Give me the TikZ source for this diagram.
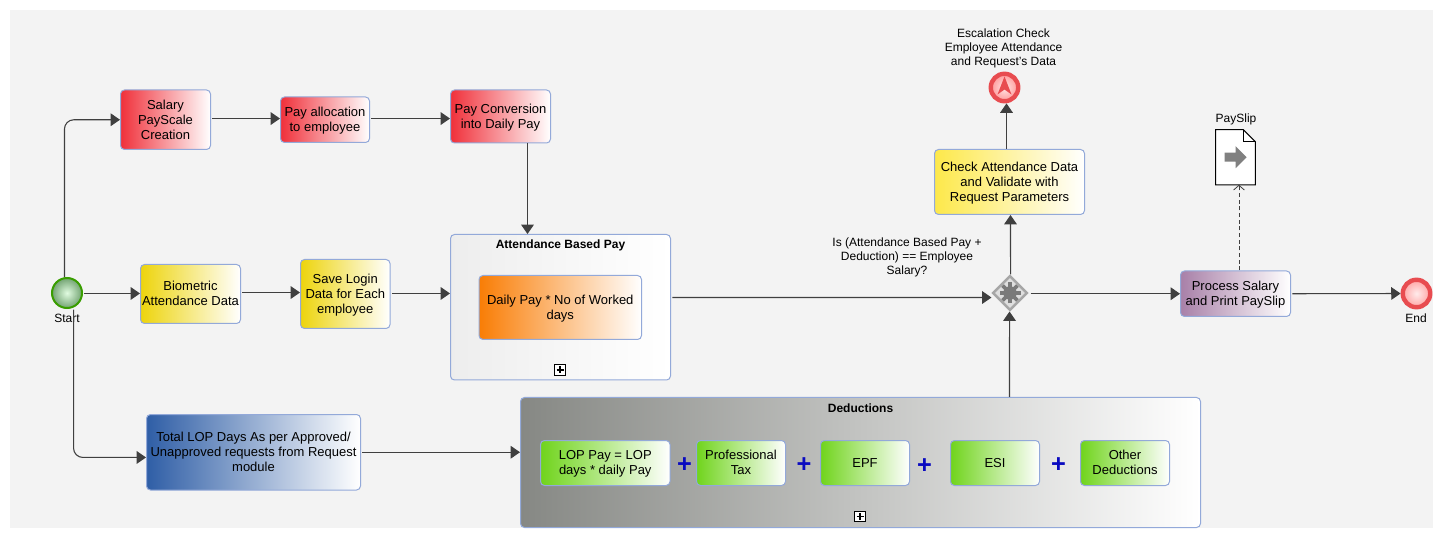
\documentclass[tikz,border=0pt]{standalone}
\usepackage{fontspec}
\setmainfont{Liberation Sans}
\usetikzlibrary{arrows.meta,shapes.geometric,calc}
\newcommand{\ls}{\rule[-2.07pt]{0pt}{10.87pt}}
\definecolor{edgeC}{HTML}{3F3F3F}
\definecolor{borderC}{HTML}{93A9D9}
\definecolor{panelC}{HTML}{F3F3F3}
\definecolor{redC}{HTML}{F0303A}
\definecolor{goldC}{HTML}{EDD40C}
\definecolor{lemonC}{HTML}{FDE84A}
\definecolor{greenC}{HTML}{70D41C}
\definecolor{blueC}{HTML}{2F5EA6}
\definecolor{orangeC}{HTML}{F97D05}
\definecolor{purpleC}{HTML}{A880A8}
\definecolor{slateC}{HTML}{868884}
\definecolor{ringC}{HTML}{E84C50}
\definecolor{plusC}{HTML}{0A0AC0}
\tikzset{
  x=0.75pt,y=-0.75pt,
  lab/.style={inner sep=0pt,align=center,font=\fontsize{9}{10.5}\selectfont,text=black},
  flow/.style={draw=edgeC,line width=0.8pt,-{Triangle[length=7pt,width=9.5pt]}},
  box/.style={draw=borderC,line width=0.75pt,rounded corners=3pt,inner sep=0pt,align=center,
     font=\fontsize{9.75}{11.25}\selectfont,text=black,right color=white},
  sz/.style 2 args={minimum width=#1*0.75pt,minimum height=#2*0.75pt},
  redbox/.style={box,left color=redC},
  yelbox/.style={box,left color=goldC},
  grnbox/.style={box,left color=greenC},
  title/.style={inner sep=0pt,font=\fontsize{9}{11}\bfseries\selectfont},
  marker/.style={draw=black,fill=white,line width=0.75pt,minimum size=8.2pt,inner sep=0pt},
  plussign/.style={inner sep=0pt,text=plusC,font=\fontsize{19}{19}\bfseries\selectfont},
}
\begin{document}
\begin{tikzpicture}
\useasboundingbox (0,0) rectangle (1443,538);
\fill[white] (0,0) rectangle (1443,538);
\fill[panelC] (10,10) rectangle (1433,528);

% tasks
\node[redbox,sz={90}{59.5}] (salary) at (165.5,119.75) {\ls Salary\\PayScale\\\ls Creation};
\node[redbox,sz={89}{45.5}] (alloc) at (325,119.75) {\ls Pay allocation\\\ls to employee};
\node[redbox,sz={100}{53}] (conv) at (500.5,116.5) {\ls Pay Conversion\\\ls into Daily Pay};
\node[yelbox,sz={100}{59}] (bio) at (190.5,294) {\ls Biometric\\\ls Attendance Data};
\node[yelbox,sz={89.5}{69}] (save) at (345.25,294) {\ls Save Login\\Data for Each\\\ls employee};
\node[box,left color=black!7,sz={220}{145.5}] (att) at (560.5,307.25) {};
\node[title] (attT) at (560.5,245.5) {Attendance Based Pay};
\node[box,left color=orangeC,sz={162.5}{64}] (daily) at (560.25,307.5) {\ls Daily Pay * No of Worked\\\ls days};
\node[marker] (attM) at (560,370) {};
\node[box,left color=blueC,sz={214}{75.5}] (lop) at (253.5,452.25) {\ls Total LOP Days As per Approved/\\Unapproved requests from Request\\\ls module};
\node[box,left color=slateC,sz={680}{130}] (ded) at (860.5,462.5) {};
\node[title] (dedT) at (860.5,408.5) {Deductions};
\node[marker] (dedM) at (860,516.5) {};
\node[grnbox,sz={129.5}{45}] (lopP) at (605.25,463) {\ls LOP Pay = LOP\\\ls days * daily Pay};
\node[grnbox,sz={89}{45}] (prof) at (741,463) {\ls Professional\\\ls Tax};
\node[grnbox,sz={89}{45}] (epf) at (865,463) {\ls EPF};
\node[grnbox,sz={89}{45}] (esi) at (995,463) {\ls ESI};
\node[grnbox,sz={89}{45}] (other) at (1125,463) {\ls Other\\\ls Deductions};
\node[plussign] (p1) at (684.5,465) {+};
\node[plussign] (p2) at (804,465) {+};
\node[plussign] (p3) at (924.5,466) {+};
\node[plussign] (p4) at (1058.5,465) {+};
\node[box,left color=lemonC,sz={150}{65}] (check) at (1009.5,182) {\ls Check Attendance Data\\and Validate with\\\ls Request Parameters};
\node[box,left color=purpleC,sz={110}{45.5}] (proc) at (1235.5,293.75) {\ls Process Salary\\\ls and Print PaySlip};

% events
\node[circle,draw=green!45!black!70!lime,line width=1.5pt,minimum size=22.5pt,inner sep=0pt,inner color=black!12!green!12!white,outer color=green!35!black!55!white] (start) at (67,293) {};
\node[lab] (startL) at (67,318.5) {Start};
\node[circle,draw=ringC,line width=3.3pt,minimum size=20.6pt,inner sep=0pt,inner color=red!8!white,outer color=red!35!white] (endE) at (1416.5,293.5) {};
\node[lab] (endL) at (1416,318.5) {End};
\node[circle,draw=ringC,line width=3.3pt,minimum size=20.6pt,inner sep=0pt,inner color=red!10!white,outer color=red!40!white] (esc) at (1004.5,87.5) {};
\fill[ringC] (esc.center) ++(0,-11) -- ++(7,18) -- ++(-7,-5) -- ++(-7,5) -- cycle;
\node[lab] (escL) at (1003.5,48) {Escalation Check\\Employee Attendance\\and Request's Data};

% gateway
\node[diamond,draw=black!35,fill=black!13,line width=1.8pt,minimum size=26pt,inner sep=0pt] (gw) at (1010,293) {};
\foreach \a in {0,45,90,135}{
  \draw[black!52,line width=2.7pt] ($(gw.center)+(\a:10.5)$) -- ($(gw.center)+(\a+180:10.5)$);
}
\fill[black!52] (gw.center) circle[radius=5pt];
\node[lab] (gwL) at (907,257.5) {Is (Attendance Based Pay +\\Deduction) == Employee\\Salary?};

% data object
\node[inner sep=0pt,minimum width=29.25pt,minimum height=40.9pt] (doc) at (1235.5,157.25) {};
\draw[black,fill=white,line width=0.75pt] (doc.north west) -- ($(doc.north east)+(-12,0)$) -- ($(doc.north east)+(0,12)$) -- (doc.south east) -- (doc.south west) -- cycle;
\draw[black,line width=0.5pt] ($(doc.north east)+(-12,0)$) -- ($(doc.north east)+(-12,12)$) -- ($(doc.north east)+(0,12)$);
\fill[black!50] ($(doc.center)+(-11,-4.5)$) -- ++(11,0) -- ++(0,-6.5) -- ++(11,11) -- ++(-11,11) -- ++(0,-6.5) -- ++(-11,0) -- cycle;
\node[lab] (docL) at (1236,119.5) {PaySlip};

% markers
\foreach \m in {attM,dedM}{
  \draw[black,line width=1.2pt] ($(\m.center)+(-3.5,0)$) -- ($(\m.center)+(3.5,0)$);
  \draw[black,line width=1.2pt] ($(\m.center)+(0,-3.5)$) -- ($(\m.center)+(0,3.5)$);
}

% connectors
\draw[flow,rounded corners=7pt] ([xshift=-1.9pt]start.north) |- (salary.west);
\draw[flow] ([xshift=1pt,yshift=-0.35pt]start.east) -- ([yshift=-0.35pt]start.east -| bio.west);
\draw[flow,rounded corners=7pt] ([xshift=4.9pt,yshift=-0.4pt]start.south) |- ([yshift=-3.9pt]lop.west);
\draw[flow] ([xshift=1pt,yshift=0.9pt]salary.east) -- ([yshift=0.9pt]alloc.west);
\draw[flow] ([xshift=1pt,yshift=0.9pt]alloc.east) -- ([yshift=0.9pt]alloc.east -| conv.west);
\draw[flow] ([xshift=20.25pt]conv.south) -- ([xshift=-24.75pt]att.north);
\draw[flow] ([xshift=1pt,yshift=1.1pt]bio.east) -- ([yshift=1.1pt]bio.east -| save.west);
\draw[flow] ([xshift=1pt,yshift=0.4pt]save.east) -- ([yshift=0.4pt]save.east -| att.west);
\draw[flow] ([xshift=1pt,yshift=7.3pt]att.east) -- ([yshift=-3.4pt]gw.west);
\draw[flow] ([xshift=1pt]lop.east) -- (lop.east -| ded.west);
\draw[flow] ([xshift=111.75pt]ded.north) -- ([xshift=-0.35pt]gw.south);
\draw[flow] ([xshift=0.4pt]gw.north) -- ([xshift=0.75pt]check.south);
\draw[flow] ([xshift=-2.25pt]check.north) -- ([xshift=1.5pt]esc.south);
\draw[flow] ([xshift=1.5pt,yshift=-0.55pt]gw.east) -- ([yshift=-0.55pt]gw.east -| proc.west);
\draw[flow] ([xshift=1pt]proc.east) -- (endE.west);
\draw[draw=edgeC,line width=0.6pt,densely dashed,-{Straight Barb[length=3.5pt,width=8pt]}] ([xshift=2.6pt]proc.north) -- ([xshift=2.6pt]doc.south);
\end{tikzpicture}
\end{document}
